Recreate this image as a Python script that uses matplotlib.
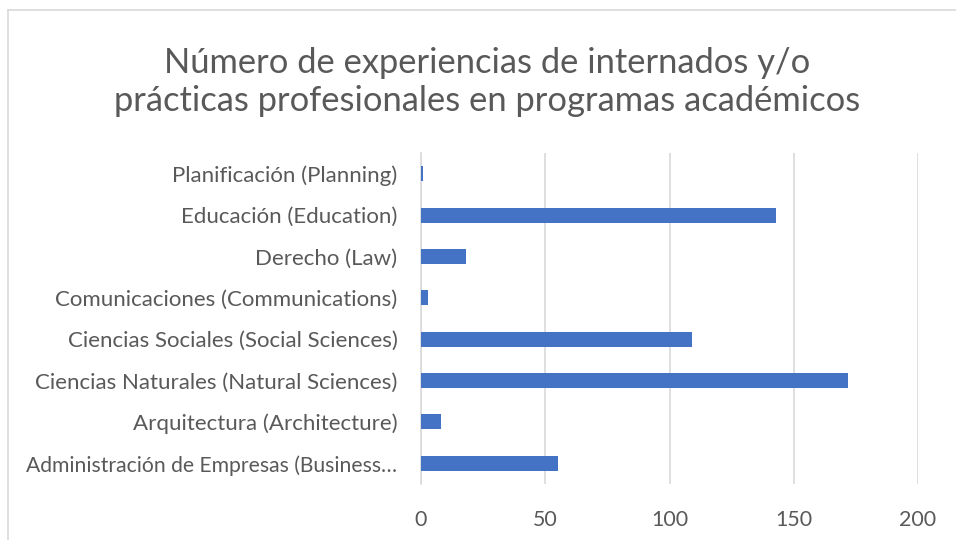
import matplotlib
matplotlib.use("Agg")
import matplotlib.pyplot as plt
from matplotlib.lines import Line2D

categories = [
    "Administración de Empresas (Business…",
    "Arquitectura (Architecture)",
    "Ciencias Naturales (Natural Sciences)",
    "Ciencias Sociales (Social Sciences)",
    "Comunicaciones (Communications)",
    "Derecho (Law)",
    "Educación (Education)",
    "Planificación (Planning)",
]
values = [55, 8, 172, 109, 3, 18, 143, 1]
xticks = [0, 50, 100, 150, 200]
title = "Número de experiencias de internados y/o\nprácticas profesionales en programas académicos"

plt.rcParams['font.family'] = ['Lato', 'DejaVu Sans']
text_color = "#595959"

fig = plt.figure(figsize=(9.56, 5.4), dpi=100)
ax = fig.add_axes([421/956, 1-484/540, (918-421)/956, (484-153)/540])

ax.barh(range(len(categories)), values, height=0.36, color="#4472c4", zorder=3)
ax.set_ylim(-0.5, len(categories)-0.5)
ax.set_xlim(0, 200)
ax.set_xticks(xticks)
ax.set_xticklabels([str(t) for t in xticks])
ax.set_yticks(range(len(categories)))
ax.set_yticklabels(categories)
ax.xaxis.grid(True, color="#d9d9d9", linewidth=1.2, zorder=0)
ax.tick_params(axis='both', length=0, colors=text_color)
ax.tick_params(axis='y', pad=17, labelsize=16)
ax.tick_params(axis='x', pad=19, labelsize=15.4)
# the truncated label is squeezed to fit, as in the original
ax.get_yticklabels()[0].set_fontsize(15.2)
for s in ['top', 'right', 'bottom']:
    ax.spines[s].set_visible(False)
ax.spines['left'].set_color("#d9d9d9")
ax.spines['left'].set_linewidth(1.2)

fig.text(487/956, 1-82/540, title, ha='center', va='center', fontsize=24.8,
         color=text_color, linespacing=1.22)

# outer chart border
fig.add_artist(Line2D([8/956, 8/956], [0, 1-10/540], transform=fig.transFigure,
                      color="#d9d9d9", linewidth=1.2))
fig.add_artist(Line2D([8/956, 1], [1-10/540, 1-10/540], transform=fig.transFigure,
                      color="#d9d9d9", linewidth=1.2))

fig.savefig("out.png", dpi=100, facecolor="white")
